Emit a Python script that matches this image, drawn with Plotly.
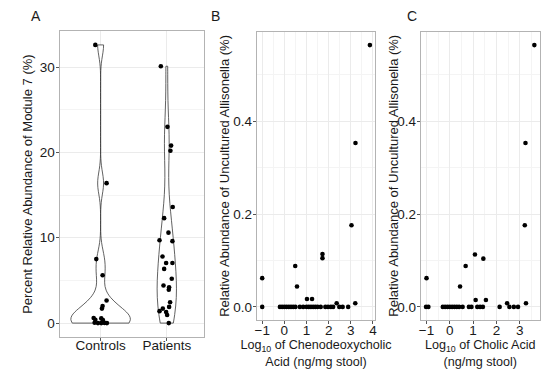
import numpy as np
import plotly.graph_objects as go

# ---------------- Data ----------------
# Panel A: percent relative abundance of Module 7
controls_vals = [32.6, 16.4, 7.5, 5.6, 2.65, 2.0, 1.7, 0.6, 0.4, 0.55, 0.35, 0.05, 0.0, 0.0, 0.02, 0.0]
controls_jitter = [-0.08, 0.09, -0.065, 0.03, 0.09, 0.03, 0.02, -0.105, -0.08, 0.01, 0.035, -0.09, -0.04, 0.01, 0.06, 0.095]
patients_vals = [30.1, 23.0, 20.8, 20.2, 13.6, 12.3, 10.6, 9.7, 9.6, 7.8, 7.05, 7.05, 6.35, 5.2, 4.4, 4.2,
                 3.9, 2.45, 1.9, 1.7, 1.4, 1.3, 0.95, 0.0]
patients_jitter = [-0.09, 0.01, 0.065, 0.055, 0.09, -0.04, 0.025, -0.11, 0.085, -0.065, -0.01, 0.085, -0.04,
                   0.075, -0.05, 0.035, 0.03, 0.05, 0.035, -0.06, -0.11, -0.01, 0.005, 0.03]
groups = ["Controls", "Patients"]

# Panel B: log10 chenodeoxycholic acid vs uncultured Allisonella
cdca_x = [-1.0, 0.49, 0.57, 1.02, 1.25, 1.72, 1.72, 2.36, 3.03, 3.21, 3.2, 3.86,
          -1.0, -0.2, -0.1, 0.0, 0.1, 0.2, 0.3, 0.4, 0.5, 0.7, 0.85, 1.0, 1.1, 1.2, 1.3, 1.4, 1.5,
          1.64, 1.85, 1.97, 2.1, 2.2, 2.48, 2.63, 2.88]
cdca_y = [0.062, 0.088, 0.044, 0.017, 0.017, 0.114, 0.105, 0.008, 0.176, 0.353, 0.008, 0.564,
          0, 0, 0, 0, 0, 0, 0, 0, 0, 0, 0, 0, 0, 0, 0, 0, 0,
          0, 0, 0, 0, 0, 0, 0, 0]

# Panel C: log10 cholic acid vs uncultured Allisonella
ca_x = [-1.0, 0.44, 0.68, 1.08, 1.44, 1.11, 1.55, 2.46, 3.22, 3.25, 3.27, 3.63,
        -1.02, -0.92, -0.3, -0.2, -0.1, 0.0, 0.1, 0.2, 0.3, 0.4, 0.55, 0.82, 0.93, 1.18, 1.3, 1.42,
        2.14, 2.56, 2.75, 2.93]
ca_y = [0.062, 0.044, 0.088, 0.113, 0.104, 0.015, 0.015, 0.008, 0.176, 0.353, 0.008, 0.564,
        0, 0, 0, 0, 0, 0, 0, 0, 0, 0, 0, 0, 0, 0, 0, 0,
        0, 0, 0, 0]

y_title_a = "Percent Relative Abundance of Module 7 (%)"
y_title_bc = "Relative Abundance of Uncultured Allisonella (%)"

# ---------------- Helpers ----------------
def nrd0(v):
    v = np.asarray(v, float)
    q75, q25 = np.percentile(v, [75, 25])
    lo = min(np.std(v, ddof=1), (q75 - q25) / 1.34)
    return 0.9 * lo * len(v) ** -0.2

def kde_max(v, bw):
    v = np.asarray(v, float)
    g = np.linspace(v.min(), v.max(), 512)
    d = np.exp(-0.5 * ((g[:, None] - v[None, :]) / bw) ** 2).sum(1) / (len(v) * bw * np.sqrt(2 * np.pi))
    return d.max()

def expand(lo, hi, f=0.05):
    r = hi - lo
    return [lo - f * r, hi + f * r]

bw_c = nrd0(controls_vals)
bw_p = nrd0(patients_vals)
mc = kde_max(controls_vals, bw_c)
mp = kde_max(patients_vals, bw_p)
gmax = max(mc, mp)
w_c = 0.9 * mc / gmax
w_p = 0.9 * mp / gmax

FONT = "Liberation Sans, Arial, sans-serif"
GRID = "#EBEBEB"
MINOR = "#F4F4F4"
BORDER = "#B3B3B3"
TXT = "#1a1a1a"
DOT = dict(color="black", size=4.6)

fig = go.Figure()

# Panel A violins
for i, (vals, w, bw) in enumerate([(controls_vals, w_c, bw_c), (patients_vals, w_p, bw_p)]):
    fig.add_trace(go.Violin(
        y=vals, x0=i, width=w, bandwidth=bw, spanmode="hard", scalemode="width",
        points=False, fillcolor="white", line=dict(color="#3a3a3a", width=0.8),
        showlegend=False, xaxis="x", yaxis="y", hoverinfo="skip"))

# Panel A points
fig.add_trace(go.Scatter(x=[0 + j for j in controls_jitter], y=controls_vals, mode="markers",
                         marker=DOT, showlegend=False, xaxis="x", yaxis="y"))
fig.add_trace(go.Scatter(x=[1 + j for j in patients_jitter], y=patients_vals, mode="markers",
                         marker=DOT, showlegend=False, xaxis="x", yaxis="y"))

# Panel B / C points
fig.add_trace(go.Scatter(x=cdca_x, y=cdca_y, mode="markers", marker=DOT, showlegend=False,
                         xaxis="x2", yaxis="y2"))
fig.add_trace(go.Scatter(x=ca_x, y=ca_y, mode="markers", marker=DOT, showlegend=False,
                         xaxis="x3", yaxis="y3"))

H = 382.0
W = 550.0

def ax(domain, anchor, rng, **kw):
    d = dict(domain=domain, anchor=anchor, range=rng, showline=True, mirror=True,
             linecolor=BORDER, linewidth=1, zeroline=False, showgrid=True, gridcolor=GRID,
             gridwidth=1, ticks="outside", ticklen=3, tickcolor="#555555", tickwidth=1,
             tickfont=dict(family=FONT, size=13.5, color=TXT),
             title=dict(font=dict(family=FONT, size=13, color=TXT)))
    for k, v in kw.items():
        if k == "title":
            d["title"].update(v)
        else:
            d[k] = v
    return d

xa = [58 / W, 203 / W]
xb = [256.7 / W, 376 / W]
xc = [421.7 / W, 541.7 / W]
ya = [1 - 337 / H, 1 - 31 / H]
ybc = [1 - 320 / H, 1 - 32 / H]

all_a = controls_vals + patients_vals
yr_a = expand(min(all_a), max(all_a))
yr_b = expand(min(cdca_y), max(cdca_y))
yr_c = expand(min(ca_y), max(ca_y))
xr_b = expand(min(cdca_x), max(cdca_x))
xr_c = expand(min(ca_x), max(ca_x))

XT = dict(family=FONT, size=12.6, color=TXT)

fig.update_layout(
    width=550, height=382,
    margin=dict(l=0, r=0, t=0, b=0),
    paper_bgcolor="white", plot_bgcolor="white",
    violinmode="overlay",
    font=dict(family=FONT, color=TXT),
    xaxis=ax(xa, "y", [-0.62, 1.555], tickvals=[0, 1], ticktext=groups, ticklabelstandoff=-7),
    yaxis=ax(ya, "x", yr_a, tickvals=[0, 10, 20, 30], ticklabelstandoff=-2,
             minor=dict(dtick=5, tick0=0, showgrid=True, gridcolor=MINOR, ticks="")),
    xaxis2=ax(xb, "y2", xr_b, dtick=1, tick0=0, ticklabelstandoff=-5,
              minor=dict(dtick=0.5, tick0=0, showgrid=True, gridcolor=MINOR, ticks=""),
              title=dict(text="Log<sub>10</sub> of Chenodeoxycholic<br>Acid (ng/mg stool)", standoff=0, font=XT)),
    yaxis2=ax(ybc, "x2", yr_b, dtick=0.2, tick0=0, tickformat=".1f", ticklabelstandoff=-2,
              minor=dict(dtick=0.1, tick0=0, showgrid=True, gridcolor=MINOR, ticks="")),
    xaxis3=ax(xc, "y3", xr_c, dtick=1, tick0=0, ticklabelstandoff=-5,
              minor=dict(dtick=0.5, tick0=0, showgrid=True, gridcolor=MINOR, ticks=""),
              title=dict(text="Log<sub>10</sub> of Cholic Acid<br>(ng/mg stool)", standoff=0, font=XT)),
    yaxis3=ax(ybc, "x3", yr_c, dtick=0.2, tick0=0, tickformat=".1f", ticklabelstandoff=-2,
              minor=dict(dtick=0.1, tick0=0, showgrid=True, gridcolor=MINOR, ticks="")),
)

# Y axis titles (rotated), placed beside each panel
for txt, px, py in [(y_title_a, 25, 184), (y_title_bc, 223.5, 176), (y_title_bc, 393.5, 176)]:
    fig.add_annotation(text=txt, x=px / W, y=1 - py / H, xref="paper", yref="paper",
                       textangle=-90, showarrow=False, xanchor="center", yanchor="middle",
                       font=dict(family=FONT, size=13, color=TXT))

for lab, px in [("A", 34), ("B", 215), ("C", 413)]:
    fig.add_annotation(text=lab, x=px / W, y=1 - 16 / H, xref="paper", yref="paper",
                       showarrow=False, xanchor="center", yanchor="middle",
                       font=dict(family=FONT, size=14, color=TXT))

fig.write_html("out.html", config={"displayModeBar": False},
               post_script="document.body.style.margin='0';document.body.style.padding='0';")
